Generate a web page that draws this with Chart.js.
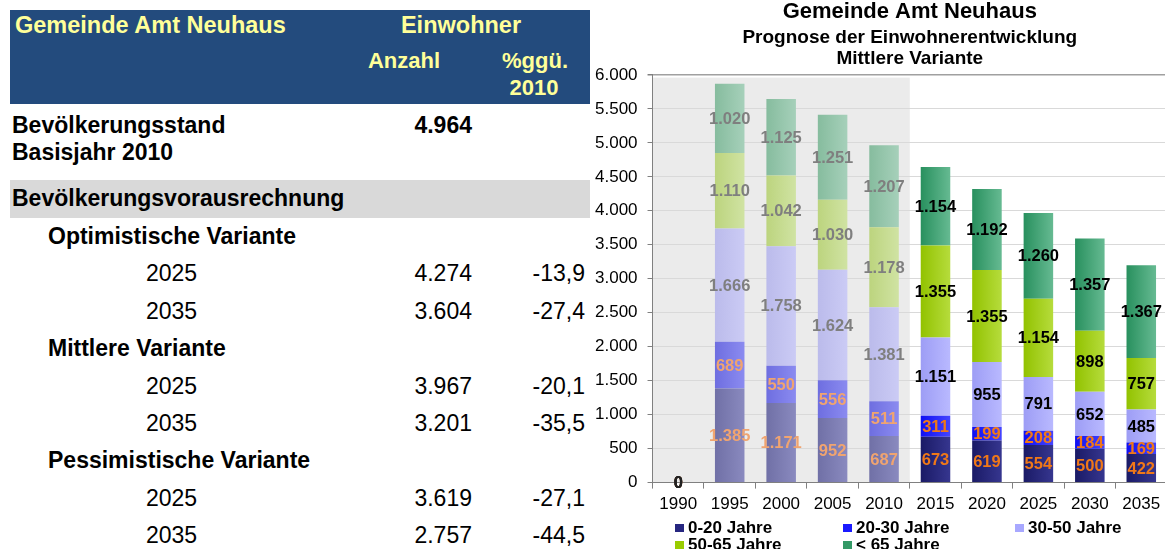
<!DOCTYPE html>
<html>
<head>
<meta charset="utf-8">
<script src="https://cdn.jsdelivr.net/npm/chart.js@4.4.1/dist/chart.umd.min.js"></script>
<style>
  html, body { margin: 0; padding: 0; width: 1165px; height: 549px; overflow: hidden; background: #fff; }
  body { position: relative; font-family: "Liberation Sans", Arial, sans-serif; }
  .band { position: absolute; }
  .t { position: absolute; white-space: nowrap; font-size: 23px; line-height: 26px; color: #000; }
  .b { font-weight: bold; }
  .hd { color: #ffff99; font-weight: bold; font-size: 23.5px; }
  .hs { font-size: 22px; }
  #wrap { position: absolute; left: 585px; top: 0; width: 582px; height: 549px; }
  #legend { position: absolute; left: 0; top: 0; }
  .lg { position: absolute; white-space: nowrap; font-weight: bold; font-size: 17px; line-height: 18px; transform: translateY(-50%); }
  .lg i { display: inline-block; width: 9px; height: 8px; margin-right: 4px; vertical-align: 1px; }
</style>
</head>
<body>
<div class="band" style="left:10px;top:10px;width:580px;height:94px;background:#234b7d"></div>
<div class="band" style="left:10px;top:180px;width:580px;height:38px;background:#d9d9d9"></div>
<div id="table"></div>
<div id="wrap"><canvas id="chart"></canvas></div>
<div id="legend"></div>
<script>
// chart data
const years = ['1990', '1995', '2000', '2005', '2010', '2015', '2020', '2025', '2030', '2035'];
const histCount = 5; // 1990..2010 are past values, drawn faded
const seriesNames = ['0-20 Jahre', '20-30 Jahre', '30-50 Jahre', '50-65 Jahre', '< 65 Jahre'];
const age0to20 = [0, 1385, 1171, 952, 687, 673, 619, 554, 500, 422];
const age20to30 = [0, 689, 550, 556, 511, 311, 199, 208, 184, 169];
const age30to50 = [0, 1666, 1758, 1624, 1381, 1151, 955, 791, 652, 485];
const age50to65 = [0, 1110, 1042, 1030, 1178, 1355, 1355, 1154, 898, 757];
const age65plus = [0, 1020, 1125, 1251, 1207, 1154, 1192, 1260, 1357, 1367];
const yMax = 6000;
const yStep = 500;

// table data
const tableTitle = 'Gemeinde Amt Neuhaus';
const baseLabel = ['Bevölkerungsstand', 'Basisjahr 2010'];
const baseCount = '4.964';
const variantNames = ['Optimistische Variante', 'Mittlere Variante', 'Pessimistische Variante'];
const variantYears = ['2025', '2035'];
const variantCounts = [['4.274', '3.604'], ['3.967', '3.201'], ['3.619', '2.757']];
const variantPct = [['-13,9', '-27,4'], ['-20,1', '-35,5'], ['-27,1', '-44,5']];

// colours: [left, right] of the bar gradient
const foreColors = [['#1a1a66', '#36368f'], ['#0f0ff2', '#4545ff'], ['#9d9df5', '#b9b9ff'], ['#92c200', '#b6dc3c'], ['#28905e', '#66ba92']];
const histColors = [['#7070a6', '#8a8abf'], ['#6e6ee0', '#8b8bf0'], ['#bbbbeb', '#cbcbf5'], ['#bcd47e', '#d0e3a3'], ['#86bc9e', '#a6d0ba']];
const legendColors = ['#262680', '#1a1aff', '#a8a8ff', '#99cc00', '#339966'];

// ---- table on the left ----
const tbl = document.getElementById('table');
function addText(txt, x, y, cls, align) {
  const d = document.createElement('div');
  d.className = 't ' + (cls || '');
  d.textContent = txt;
  d.style.left = x + 'px';
  d.style.top = y + 'px';
  const tx = align === 'right' ? '-100%' : align === 'center' ? '-50%' : '0';
  d.style.transform = 'translate(' + tx + ',-50%)';
  tbl.appendChild(d);
}
addText(tableTitle, 15, 25, 'hd');
addText('Einwohner', 461, 25, 'hd', 'center');
addText('Anzahl', 404, 61, 'hd hs', 'center');
addText('%ggü.', 535, 61, 'hd hs', 'center');
addText('2010', 534, 88, 'hd hs', 'center');
addText(baseLabel[0], 12, 125, 'b');
addText(baseLabel[1], 12, 152, 'b');
addText(baseCount, 472, 125, 'b', 'right');
addText('Bevölkerungsvorausrechnung', 12, 198, 'b');
variantNames.forEach(function(name, k) {
  const y0 = 236 + k * 112.2;
  addText(name, 48, y0, 'b');
  variantYears.forEach(function(yr, j) {
    const y = y0 + (j + 1) * 37.4;
    addText(yr, 146, y);
    addText(variantCounts[k][j], 472, y, '', 'right');
    addText(variantPct[k][j], 585, y, '', 'right');
  });
});

// ---- chart ----
Chart.defaults.font.family = '"Liberation Sans", Arial, sans-serif';
Chart.defaults.color = '#000';

function fmt(v) {
  return String(Math.round(v)).replace(/\B(?=(\d{3})+(?!\d))/g, '.');
}

function barColor(d) {
  return function(c) {
    const i = c.dataIndex;
    const pair = i < histCount ? histColors[d] : foreColors[d];
    const el = c.chart.getDatasetMeta(c.datasetIndex).data[i];
    if (!el || !isFinite(el.x) || !isFinite(el.width)) return pair[0];
    const g = c.chart.ctx.createLinearGradient(el.x - el.width / 2, 0, el.x + el.width / 2, 0);
    g.addColorStop(0, pair[0]);
    g.addColorStop(1, pair[1]);
    return g;
  };
}

const allSeries = [age0to20, age20to30, age30to50, age50to65, age65plus];
const datasets = allSeries.map(function(vals, d) {
  return {
    label: seriesNames[d],
    data: vals,
    backgroundColor: barColor(d),
    borderWidth: 0,
    barPercentage: 0.82,
    categoryPercentage: 0.7
  };
});

// grey panel behind the past years
const pastPanel = {
  id: 'pastPanel',
  beforeDraw(chart) {
    const x = chart.scales.x, y = chart.scales.y, ctx = chart.ctx;
    const half = (x.getPixelForValue(1) - x.getPixelForValue(0)) / 2;
    const right = x.getPixelForValue(histCount - 1) + half;
    const top = y.getPixelForValue(5960);
    ctx.save();
    ctx.fillStyle = '#ebebeb';
    ctx.fillRect(chart.chartArea.left, top, right - chart.chartArea.left, chart.chartArea.bottom - top);
    ctx.restore();
  }
};

// value labels in the middle of each segment
const segLabels = {
  id: 'segLabels',
  afterDatasetsDraw(chart) {
    const ctx = chart.ctx;
    ctx.save();
    ctx.font = 'bold 16.5px "Liberation Sans", Arial, sans-serif';
    ctx.textAlign = 'center';
    ctx.textBaseline = 'middle';
    chart.data.datasets.forEach(function(ds, d) {
      chart.getDatasetMeta(d).data.forEach(function(bar, i) {
        const p = bar.getProps(['x', 'y', 'base'], true);
        let col;
        if (d < 2) col = i < histCount ? '#f0a470' : '#f07818';
        else col = i === 0 ? '#222' : (i < histCount ? '#7f7f7f' : '#000');
        ctx.fillStyle = col;
        ctx.fillText(fmt(ds.data[i]), p.x, (p.y + p.base) / 2 + 1);
      });
    });
    ctx.restore();
  }
};

const chart = new Chart(document.getElementById('chart'), {
  type: 'bar',
  data: { labels: years, datasets: datasets },
  options: {
    responsive: true,
    maintainAspectRatio: false,
    animation: false,
    layout: { padding: { left: 0, right: 0, top: 0, bottom: 28 } },
    plugins: {
      legend: { display: false },
      tooltip: { enabled: false },
      title: {
        display: true,
        text: 'Gemeinde Amt Neuhaus',
        font: { size: 22, weight: 'bold', lineHeight: 1.05 },
        color: '#000',
        fullSize: false,
        padding: { top: 0, bottom: 0 }
      },
      subtitle: {
        display: true,
        text: ['Prognose der Einwohnerentwicklung', 'Mittlere Variante'],
        font: { size: 19, weight: 'bold', lineHeight: 1.1 },
        color: '#000',
        fullSize: false,
        padding: { top: 4, bottom: 6 }
      }
    },
    scales: {
      x: {
        stacked: true,
        grid: { display: true, drawOnChartArea: false, drawTicks: true, tickLength: 6, tickColor: '#808080', offset: true },
        border: { color: '#808080', width: 1 },
        ticks: { font: { size: 17 }, color: '#000', padding: 6, maxRotation: 0 }
      },
      y: {
        stacked: true,
        min: 0,
        max: yMax,
        grid: {
          color: function(c) { return c.tick && c.tick.value === yMax ? '#a0a0a0' : '#d9d9d9'; },
          lineWidth: function(c) { return c.tick && c.tick.value === yMax ? 1.5 : 1; },
          tickLength: 5,
          tickColor: '#808080'
        },
        border: { color: '#808080', width: 1 },
        ticks: { stepSize: yStep, font: { size: 17 }, color: '#000', padding: 10, callback: function(v) { return fmt(v); } }
      }
    }
  },
  plugins: [pastPanel, segLabels]
});
// second pass so the gradients know where each bar sits
chart.update('none');

// legend below the chart, in three columns
const legendPos = [[675, 528], [843, 528], [1015, 528], [675, 545], [843, 545]];
const legendBox = document.getElementById('legend');
chart.data.datasets.forEach(function(ds, d) {
  const item = document.createElement('div');
  item.className = 'lg';
  item.style.left = legendPos[d][0] + 'px';
  item.style.top = legendPos[d][1] + 'px';
  const sw = document.createElement('i');
  sw.style.background = legendColors[d];
  item.appendChild(sw);
  item.appendChild(document.createTextNode(ds.label));
  legendBox.appendChild(item);
});
</script>
</body>
</html>
